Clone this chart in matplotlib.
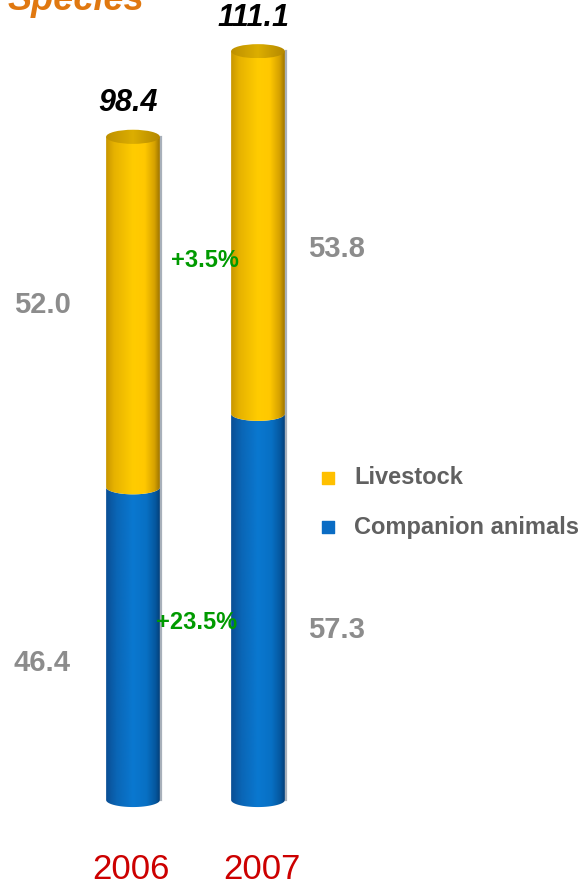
import numpy as np
import matplotlib.pyplot as plt
from matplotlib.path import Path
from matplotlib.patches import PathPatch, Ellipse
from matplotlib.colors import LinearSegmentedColormap

# data
years = ["2006", "2007"]
companion = [46.4, 57.3]
livestock = [52.0, 53.8]
totals = [98.4, 111.1]
growth_labels = ["+23.5%", "+3.5%"]
series_names = ["Livestock", "Companion animals"]

plt.rcParams['font.family'] = ['Liberation Sans', 'DejaVu Sans']

yellow_cmap = LinearSegmentedColormap.from_list(
    "yel", [(0, "#C89600"), (0.15, "#E6B200"), (0.5, "#FFCC00"),
            (0.72, "#FFC800"), (0.9, "#D6A200"), (1, "#9C7400")])
blue_cmap = LinearSegmentedColormap.from_list(
    "blu", [(0, "#0A4E94"), (0.2, "#0A66B6"), (0.5, "#0A78D0"),
            (0.75, "#0870C4"), (0.92, "#05579E"), (1, "#043F78")])
cap_cmap = LinearSegmentedColormap.from_list(
    "cap", [(0, "#BE9000"), (0.5, "#DCAE00"), (1, "#B48800")])

fig = plt.figure(figsize=(5.86, 8.88), dpi=100)
ax = fig.add_axes([0, 0, 1, 1])
ax.set_xlim(-1.064, 3.624)
ax.set_ylim(-13.06, 118.7)
ax.axis("off")

w = 0.43
h = 1.05


def segment(xc, y0, y1, cmap, flat_top=False):
    t = np.linspace(np.pi, 2 * np.pi, 80)
    bx = xc + w / 2 * np.cos(t)
    by = y0 + h * np.sin(t)
    if flat_top:
        tx = np.array([xc + w / 2, xc - w / 2])
        ty = np.array([y1, y1])
    else:
        t2 = t[::-1]
        tx = xc + w / 2 * np.cos(t2)
        ty = y1 + h * np.sin(t2)
    xs = np.concatenate([bx, tx, bx[:1]])
    ys = np.concatenate([by, ty, by[:1]])
    verts = np.column_stack([xs, ys])
    codes = [Path.MOVETO] + [Path.LINETO] * (len(verts) - 2) + [Path.CLOSEPOLY]
    patch = PathPatch(Path(verts, codes), facecolor="none", edgecolor="none")
    ax.add_patch(patch)
    grad = np.linspace(0, 1, 256).reshape(1, -1)
    im = ax.imshow(grad, cmap=cmap, aspect="auto", interpolation="bilinear",
                   extent=[xc - w / 2, xc + w / 2, y0 - h - 0.2, y1 + h + 0.2],
                   zorder=2)
    im.set_clip_path(patch)


for i, yr in enumerate(years):
    xc = i
    c = companion[i]
    tot = c + livestock[i]
    # shadow strip on the right
    ax.plot([xc + w / 2 + 0.012] * 2, [0, tot], color="#A8B0BA", lw=1.6, zorder=1)
    segment(xc, 0, c, blue_cmap)
    segment(xc, c, tot, yellow_cmap, flat_top=True)
    cap = Ellipse((xc, tot), w, 2 * h, facecolor="none", edgecolor="none")
    ax.add_patch(cap)
    grad = np.linspace(0, 1, 256).reshape(1, -1)
    im = ax.imshow(grad, cmap=cap_cmap, aspect="auto", interpolation="bilinear",
                   extent=[xc - w / 2, xc + w / 2, tot - h, tot + h], zorder=3)
    im.set_clip_path(cap)
    ax.text(xc - 0.04, totals[i] + 5.0, f"{totals[i]:.1f}", ha="center", va="center",
            fontsize=22, fontweight="bold", fontstyle="italic", color="black")
    ax.text(xc - 0.02 + 0.05 * i, -10.3, yr, ha="center", va="center", fontsize=25,
            color="#CC0000")

# segment value labels
lab_x = [-0.728, 1.624]
comp_off = [-2.9, -3.4]
live_off = [1.0, -2.4]
for i in range(len(years)):
    ax.text(lab_x[i], companion[i] / 2 + comp_off[i], f"{companion[i]:.1f}",
            ha="center", va="center", fontsize=21, fontweight="bold", color="#8C8C8C")
    ax.text(lab_x[i], companion[i] + livestock[i] / 2 + live_off[i], f"{livestock[i]:.1f}",
            ha="center", va="center", fontsize=21, fontweight="bold", color="#8C8C8C")

# growth labels
ax.text(0.512, 26.4, growth_labels[0], ha="center", va="center", fontsize=17,
        fontweight="bold", color="#009A00", zorder=5)
ax.text(0.576, 80.1, growth_labels[1], ha="center", va="center", fontsize=17,
        fontweight="bold", color="#009A00", zorder=5)

# legend
leg_y = [47.8, 40.5]
leg_col = ["#FFC000", "#0A6CC4"]
for name, yy, col in zip(series_names, leg_y, leg_col):
    ax.scatter([1.56], [yy], marker="s", s=70, color=col, zorder=5)
    ax.text(1.768, yy, name, ha="left", va="center", fontsize=17,
            fontweight="bold", color="#606060")

ax.text(-1.0, 117.2, "Species", ha="left", va="baseline", fontsize=26,
        fontweight="bold", fontstyle="italic", color="#E07810")

fig.savefig("out.png", dpi=100)
